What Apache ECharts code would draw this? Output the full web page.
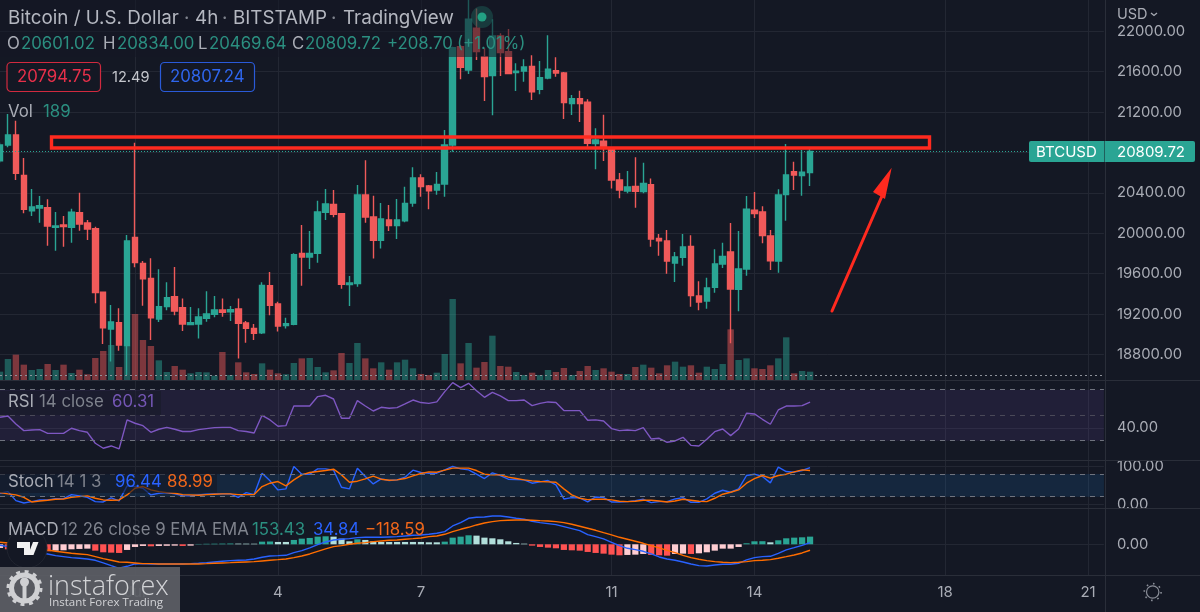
<!DOCTYPE html>
<html>
<head>
<meta charset="utf-8">
<title>BTCUSD 4h</title>
<style>
html,body{margin:0;padding:0;background:#141824;}
#main{width:1200px;height:612px;}
</style>
<script src="https://cdn.jsdelivr.net/npm/echarts@6/dist/echarts.min.js"></script>
</head>
<body>
<div id="main"></div>
<script>
// candles, the first one is cut by the left edge
var opens = [20719,20874,20973,20574,20224,20251,20254,20059,20082,20059,20205,20102,20046,19416,19053,19116,18888,19960,19703,19554,19152,19274,19373,19264,19096,19102,19158,19198,19241,19224,19251,19112,19059,19016,19482,19300,19086,19099,19802,19766,19802,20208,20287,20195,19492,19502,20379,20162,19931,20132,20076,20125,20300,20548,20469,20429,20488,20874,21848,21617,22030,21749,21561,21954,21799,21591,21607,21653,21426,21538,21610,21587,21284,21333,21297,20888,20911,20832,20528,20419,20465,20413,20482,19950,19924,19706,19762,19871,19380,19330,19465,19696,19815,19446,19647,20228,20211,19974,19726,20383,20610,20571,20601.02];
var highs = [20900,21181,21115,20746,20439,20370,20337,20211,20172,20244,20403,20132,20066,19416,19290,19258,19984,20898,19726,19753,19644,19515,19667,19356,19271,19258,19426,19380,19356,19281,19356,19132,19102,19515,19617,19323,19165,19802,20082,20023,20323,20439,20429,20195,19578,20478,20723,20373,20300,20280,20340,20462,20653,20584,20478,20607,21023,21848,21865,22350,22227,21832,22119,21980,22023,21683,21723,21762,21706,21960,21742,21597,21370,21412,21327,21040,21175,20841,20597,20617,20752,20700,20544,19993,20033,19815,19993,19980,19525,19561,19842,19908,20102,20023,20370,20409,20267,20033,20436,20884,20709,20825,20834];
var lows = [20700,20851,20528,20198,20172,20106,19878,19828,19868,19908,20026,19934,19307,18904,18730,18838,18598,19663,19284,18944,19122,19238,19188,19033,19093,18960,19125,19168,19175,19132,18762,18918,18944,19003,19188,19027,19059,19089,19482,19647,19710,20132,20158,19452,19281,19472,20106,19752,19851,20023,19944,20109,20264,20363,20238,20383,20363,20808,21525,21577,21716,21310,21168,21558,21581,21409,21501,21320,21376,21525,21551,21132,21172,21102,20858,20634,20716,20445,20347,20396,20254,20396,19868,19779,19601,19518,19680,19274,19238,19254,19413,19657,18911,19228,19581,20152,19901,19637,19611,20125,20429,20373,20469.64];
var closes = [20874,20973,20594,20238,20261,20274,20073,20073,20066,20208,20092,20043,19413,19066,19122,18895,19924,19710,19551,19165,19274,19363,19231,19102,19116,19172,19201,19241,19218,19244,19109,19059,19010,19485,19287,19083,19106,19789,19766,19802,20211,20290,20188,19495,19508,20379,20162,19931,20142,20076,20132,20297,20548,20462,20422,20485,20874,21838,21643,22119,21799,21551,21954,21789,21581,21604,21647,21402,21541,21624,21587,21294,21333,21284,20891,20924,20858,20528,20429,20459,20416,20495,19944,19927,19726,19766,19865,19383,19320,19459,19696,19772,19449,19647,20238,20195,19977,19729,20379,20577,20577,20604,20809.72];
var volumes = [189,476,575,348,227,250,363,227,348,159,234,129,499,658,794,295,779,1497,907,771,446,181,318,234,151,181,174,98,635,113,401,174,136,378,234,151,129,386,491,499,295,174,219,612,386,839,491,265,401,234,401,461,265,136,113,166,590,1837,378,839,280,408,1005,318,302,181,113,166,113,227,181,272,113,204,318,227,265,189,136,136,295,348,280,151,333,416,302,333,166,302,250,363,1149,454,491,265,250,333,491,968,151,204,189];

// indicators
var rsiValues = [48.4,49.4,43.1,37.9,38.4,38.7,35.8,35.8,35.8,39.8,37.9,36.6,28.0,24.1,25.9,23.6,46.3,43.7,41.8,36.6,39.0,40.5,39.0,37.2,37.2,38.7,39.5,40.3,40.5,40.5,37.9,37.2,36.1,49.9,46.3,41.3,41.8,57.2,57.2,57.2,64.6,65.6,62.7,47.6,47.6,61.4,57.2,53.3,56.2,55.4,55.9,58.8,61.9,59.9,59.3,60.4,68.5,75.5,71.6,75.0,69.2,64.0,67.9,65.1,61.4,61.4,61.9,57.5,59.3,60.4,59.9,53.6,53.6,53.6,46.0,46.3,45.5,39.5,37.9,38.4,37.9,40.3,31.4,31.9,28.8,29.8,32.7,26.4,25.9,31.1,37.1,39.2,34.0,39.2,51.5,51.0,46.8,42.9,54.1,57.2,57.2,57.5,60.31];
var stochK = [28.9,33.3,9.5,3.3,6.9,11.3,11.3,14.8,14.8,25.4,21.9,18.3,6.9,6.0,16.6,8.6,48.3,46.6,42.1,24.5,28.9,30.7,27.2,22.7,21.9,24.5,26.3,27.2,27.2,27.2,18.3,30.7,25.4,81.8,61.6,37.7,40.4,99.5,79.2,79.2,93.3,93.3,89.8,44.8,40.4,95.1,73.0,53.6,66.8,62.4,64.2,71.3,89.8,83.6,81.8,81.8,90.7,100,93.3,90.7,79.2,67.7,82.7,75.7,66.0,65.1,64.2,55.4,58.9,62.4,51.0,13.9,17.5,16.6,6.0,19.2,17.5,6.0,6.0,6.9,9.5,13.0,4.2,6.9,6.9,13.9,17.5,5.1,5.1,13.9,28.9,36.9,31.6,40.4,75.7,79.2,73.0,56.3,97.7,86.2,84.5,88.9,96.44];
var stochD = [30.7,27.2,24.5,18.3,6.0,8.6,10.4,13.0,13.9,18.3,20.1,21.9,15.7,11.3,10.4,11.3,24.5,42.1,46.6,37.7,33.3,30.7,28.9,25.4,24.5,23.6,25.4,26.3,27.2,27.2,25.4,25.4,25.4,46.6,55.4,59.8,48.3,64.2,77.4,83.6,86.3,88.9,92.4,77.4,58.0,60.7,66.8,73.9,66.0,63.3,64.2,67.7,74.8,81.0,85.4,84.5,89.8,95.1,95.1,95.1,88.9,79.2,77.4,77.4,71.3,67.7,64.2,61.6,59.8,58.9,58.0,40.4,24.5,15.7,12.2,13.0,13.0,11.3,7.8,6.9,7.8,10.4,10.4,8.6,6.0,8.6,13.0,10.4,7.8,6.9,15.7,26.3,31.6,37.7,55.4,67.7,75.7,68.6,75.7,79.2,85.4,90.7,88.99];
var macdLine = [-20,-47,-80,-113,-140,-167,-193,-227,-247,-267,-280,-293,-320,-373,-427,-480,-440,-393,-387,-393,-393,-393,-393,-393,-387,-380,-367,-353,-340,-327,-320,-313,-293,-260,-233,-227,-220,-167,-127,-73,-7,47,87,100,113,133,140,140,140,147,153,167,180,187,200,220,253,367,433,520,540,547,567,567,547,520,500,460,433,413,393,353,313,273,193,153,107,40,-27,-80,-107,-140,-193,-253,-293,-320,-353,-393,-427,-433,-413,-400,-400,-380,-313,-267,-247,-240,-180,-113,-67,-20,34.84];
var signalLine = [40,27,7,-13,-33,-67,-113,-140,-160,-180,-193,-207,-247,-287,-320,-353,-360,-373,-387,-387,-393,-393,-393,-393,-393,-393,-387,-380,-373,-367,-360,-353,-347,-333,-320,-307,-293,-267,-233,-193,-140,-93,-47,-27,0,20,33,53,67,80,87,100,113,127,153,167,200,253,300,340,387,427,453,473,480,487,487,480,473,467,453,433,400,360,320,280,233,187,140,100,60,20,-27,-73,-120,-167,-220,-267,-300,-327,-347,-360,-367,-360,-347,-327,-320,-307,-280,-247,-213,-173,-118.59];
var macdHist = [-73,-100,-113,-133,-133,-127,-140,-127,-120,-100,-93,-87,-127,-160,-167,-173,-113,-53,-33,-40,-33,-30,-27,-33,-27,7,10,12,14,16,14,13,12,53,56,47,47,87,113,127,153,160,153,113,60,100,87,60,47,47,47,47,47,47,40,40,53,133,153,180,173,133,120,100,60,27,13,-27,-53,-67,-80,-113,-120,-127,-153,-173,-187,-207,-220,-213,-207,-193,-213,-220,-227,-193,-187,-193,-180,-160,-127,-87,-87,-53,20,60,62,40,80,120,133,140,153.43];

// axis ticks
var slotCount = 140;
var dayTicks = {17:'Jul',35:'4',53:'7',77:'11',95:'14',119:'18',137:'21'};
var priceTicks = [18800,19200,19600,20000,20400,20800,21200,21600,22000];
var rsiTicks = [40];
var stochTicks = [0,100];
var macdTicks = [0];

var categories = [];
for (var i = 0; i < slotCount; i++) {
    categories.push(dayTicks[i] || '');
}

var upColor = '#2aa594';
var downColor = '#f05a5a';
var gridColor = '#232733';
var textColor = '#a9acb5';
var dimColor = '#7f838d';
var tealText = '#2b8f80';
var dashColor = '#6f737e';
var legendSize = 16.8;

// panes: same x scale, one under the other
var paneLeft = -2.29, paneWidth = 1106.2;
var panes = [[0,380],[381,79],[461,47],[509,66]];
var grids = panes.map(function(p){
    return {left:paneLeft, width:paneWidth, top:p[0], height:p[1], show:false};
});
var xAxes = panes.map(function(p, idx){
    return {
        type:'category', gridIndex:idx, data:categories, boundaryGap:false,
        axisLine:{show:false}, axisTick:{show:false},
        axisLabel:{
            show: idx === 3, interval:function(n, v){return v !== '';},
            color:textColor, fontFamily:'Inter', fontSize:15, margin:10
        },
        splitLine:{show:true, interval:function(n, v){return v !== '';}, lineStyle:{color:gridColor, width:1}}
    };
});

function valueAxis(gridIndex, min, max, ticks){
    return {
        type:'value', gridIndex:gridIndex, position:'right', min:min, max:max, scale:true,
        axisLine:{show:false},
        axisTick:{show:false, customValues:ticks},
        axisLabel:{
            customValues:ticks, color:textColor, fontFamily:'Inter', fontSize:14.8, margin:13,
            formatter:function(v){return v.toFixed(2);}
        },
        splitLine:{show:true, lineStyle:{color:gridColor, width:1}}
    };
}
var yAxes = [
    valueAxis(0, 18548, 22310, priceTicks),
    {type:'value', gridIndex:0, min:0, max:8620, show:false, splitLine:{show:false}},
    valueAxis(1, 14.9, 76.8, rsiTicks),
    valueAxis(2, -10, 114, stochTicks),
    valueAxis(3, -614, 706, macdTicks)
];

var candleData = opens.map(function(o, n){
    return [o, closes[n], lows[n], highs[n]];
});
var volumeData = volumes.map(function(v, n){
    return {
        value:v,
        itemStyle:{color: closes[n] >= opens[n] ? 'rgba(42,165,148,0.48)' : 'rgba(240,90,90,0.48)'}
    };
});
// histogram colour depends on the direction of the bar
var histData = macdHist.map(function(v, n){
    var prev = n > 0 ? macdHist[n-1] : v;
    var c;
    if (v >= 0) { c = v > prev ? '#2aa594' : '#b2dfdb'; }
    else { c = v < prev ? '#ff5252' : '#ffcdd2'; }
    return {value:v, itemStyle:{color:c}};
});

function dashLine(value){
    return {yAxis:value};
}
function lineSeries(xi, yi, values, color, extra){
    var s = {
        type:'line', xAxisIndex:xi, yAxisIndex:yi, data:values, showSymbol:false,
        lineStyle:{color:color, width:1.4}, itemStyle:{color:color}, silent:true
    };
    if (extra) { for (var k in extra) { s[k] = extra[k]; } }
    return s;
}

// text helpers for the overlay
function label(x, y, text, color, size, extra){
    var st = {x:x, y:y, text:text, fill:color, fontFamily:'Inter', fontSize:size, textVerticalAlign:'middle'};
    if (extra) { for (var k in extra) { st[k] = extra[k]; } }
    return {type:'text', z:110, silent:true, style:st};
}
function sep(x1, y1, x2, y2){
    return {type:'line', z:105, silent:true, shape:{x1:x1,y1:y1,x2:x2,y2:y2}, style:{stroke:'#2a2e39', lineWidth:1}};
}

var overlay = [
    // dimmed legend backdrops
    {type:'rect', z:100, silent:true, shape:{x:0,y:0,width:530,height:57}, style:{fill:'rgba(20,24,36,0.55)'}},
    {type:'rect', z:100, silent:true, shape:{x:0,y:391,width:161,height:24}, style:{fill:'rgba(20,24,36,0.45)'}},
    {type:'rect', z:100, silent:true, shape:{x:0,y:472,width:217,height:21}, style:{fill:'rgba(20,24,36,0.6)'}},
    // axis labels get cut at the top and at the pane border
    {type:'rect', z:101, silent:true, shape:{x:1106,y:0,width:94,height:25}, style:{fill:'#141824'}},
    {type:'rect', z:101, silent:true, shape:{x:1106,y:508,width:94,height:3}, style:{fill:'#141824'}},
    sep(0,380.5,1200,380.5), sep(0,460.5,1200,460.5), sep(0,508.5,1200,508.5), sep(0,575.5,1200,575.5),
    sep(1105.5,0,1105.5,612),

    label(8,18,'Bitcoin / U.S. Dollar','#b4b7c0',18.8),
    label(184,18,'·',dimColor,18.8),
    label(195,18,'4h','#b4b7c0',18.8),
    label(222,18,'·',dimColor,18.8),
    label(233,18,'BITSTAMP','#b4b7c0',18.8),
    label(331,18,'·',dimColor,18.8),
    label(343,18,'TradingView','#b4b7c0',18.8),
    {type:'circle', z:106, silent:true, shape:{cx:482,cy:17,r:11}, style:{fill:'rgba(36,150,125,0.28)'}},
    {type:'circle', z:107, silent:true, shape:{cx:482,cy:17,r:4.5}, style:{fill:'#22a183'}},

    label(7,44,'O',textColor,legendSize), label(21,44,'20601.02',tealText,legendSize),
    label(103,44,'H',textColor,legendSize), label(117,44,'20834.00',tealText,legendSize),
    label(198,44,'L',textColor,legendSize), label(209,44,'20469.64',tealText,legendSize),
    label(292,44,'C',textColor,legendSize), label(305,44,'20809.72',tealText,legendSize),
    label(387,44,'+208.70',tealText,legendSize), label(457,44,'(+1.01%)',tealText,legendSize),

    {type:'rect', z:105, silent:true, shape:{x:7,y:62.5,width:93.5,height:29,r:4}, style:{fill:'#141824',stroke:'#d12a3f',lineWidth:1.2}},
    label(17,77,'20794.75','#e8304a',legendSize),
    label(112,78,'12.49','#c4c6cc',14.6),
    {type:'rect', z:105, silent:true, shape:{x:160.5,y:62.5,width:94,height:29,r:4}, style:{fill:'#141824',stroke:'#2a5ad8',lineWidth:1.2}},
    label(170,77,'20807.24','#2f66ee',legendSize),
    label(8,112,'Vol',textColor,legendSize), label(43,112,'189',tealText,legendSize),

    label(8,402,'RSI',textColor,legendSize), label(39,402,'14 close',dimColor,legendSize), label(112,402,'60.31','#7456b4',legendSize),
    label(8,482,'Stoch',textColor,legendSize), label(57,482,'14 1 3',dimColor,legendSize), label(115,482,'96.44','#2962ff',legendSize), label(167,482,'88.99','#f0661a',legendSize),
    label(8,530,'MACD',textColor,legendSize), label(61,530,'12 26 close 9 EMA EMA',dimColor,legendSize), label(252,530,'153.43',tealText,legendSize), label(313,530,'34.84','#2962ff',legendSize), label(365,530,'−118.59','#f0661a',legendSize),

    // resistance box and arrow drawn over the chart
    {type:'rect', z:108, silent:true, shape:{x:51.5,y:137,width:878,height:11}, style:{fill:'none',stroke:'#ff2a1f',lineWidth:3.4}},
    {type:'polyline', z:108, silent:true, shape:{points:[[832,311],[882,196]]}, style:{fill:'none',stroke:'#ff2a1f',lineWidth:3,lineCap:'round'}},
    {type:'polygon', z:108, silent:true, shape:{points:[[891.7,167.7],[873,192],[885,199]]}, style:{fill:'#ff2a1f'}},

    // last price tag
    {type:'rect', z:106, silent:true, shape:{x:1029,y:141,width:75,height:21,r:[2,0,0,2]}, style:{fill:'#2aa594'}},
    {type:'rect', z:106, silent:true, shape:{x:1104.5,y:141,width:90.5,height:21,r:[0,2,2,0]}, style:{fill:'#2aa594'}},
    label(1036,152,'BTCUSD','#ffffff',15),
    label(1117,152,'20809.72','#ffffff',15),

    // currency switch
    label(1117,14.5,'USD',textColor,14.5),
    {type:'polyline', z:110, silent:true, shape:{points:[[1151,13],[1154,15.5],[1157,13]]}, style:{fill:'none',stroke:textColor,lineWidth:1.3}},

    // settings icon
    {type:'circle', z:110, silent:true, shape:{cx:1152.7,cy:592,r:6.2}, style:{fill:'none',stroke:'#8a8e98',lineWidth:1.2}},
    {type:'circle', z:110, silent:true, shape:{cx:1152.7,cy:592,r:8.4}, style:{fill:'none',stroke:'#8a8e98',lineWidth:1.6,lineDash:[1.6,5]}},

    // TV badge in the corner of the MACD pane
    {type:'circle', z:109, silent:true, shape:{cx:27,cy:548,r:20}, style:{fill:'#141824',stroke:'#20242f',lineWidth:1}},
    {type:'polygon', z:110, silent:true, shape:{points:[[17,542],[30,542],[30,555],[24,555],[24,548],[17,548]]}, style:{fill:'#f2f2f2'}},
    {type:'polygon', z:110, silent:true, shape:{points:[[33,542],[38.5,542],[33.5,555],[28,555]]}, style:{fill:'#f2f2f2'}},

    // watermark
    {type:'rect', z:111, silent:true, shape:{x:0,y:567,width:180,height:45}, style:{fill:'rgba(92,95,101,0.93)'}},
    {type:'circle', z:112, silent:true, shape:{cx:24.5,cy:588,r:13}, style:{fill:'none',stroke:'#cfd0d3',lineWidth:5}},
    {type:'circle', z:112, silent:true, shape:{cx:24.5,cy:588,r:16.5}, style:{fill:'none',stroke:'#cfd0d3',lineWidth:3,lineDash:[4,4.6]}},
    {type:'circle', z:112, silent:true, shape:{cx:24.5,cy:582,r:4.5}, style:{fill:'#cfd0d3'}},
    {type:'rect', z:112, silent:true, shape:{x:22.5,y:585,width:4,height:15}, style:{fill:'#cfd0d3'}},
    {type:'text', z:112, silent:true, style:{x:48,y:587,text:'instaforex',fill:'#d2d3d6',fontFamily:'Open Sans',fontWeight:300,fontSize:27,textVerticalAlign:'middle'}},
    {type:'text', z:112, silent:true, style:{x:49,y:603,text:'Instant Forex Trading',fill:'#d2d3d6',fontFamily:'Open Sans',fontSize:11.5,textVerticalAlign:'middle'}}
];

var chart = echarts.init(document.getElementById('main'), null, {renderer:'canvas'});
chart.setOption({
    animation:false,
    backgroundColor:'#141824',
    tooltip:{show:false},
    grid:grids,
    xAxis:xAxes,
    yAxis:yAxes,
    graphic:{elements:overlay},
    series:[
        {
            type:'candlestick', xAxisIndex:0, yAxisIndex:0, data:candleData, barWidth:6, silent:true,
            itemStyle:{color:upColor, color0:downColor, borderColor:upColor, borderColor0:downColor, borderWidth:1.4},
            markLine:{
                silent:true, symbol:'none', label:{show:false},
                lineStyle:{color:'#2aa594', type:[1,2], width:1},
                data:[{yAxis:20809.72}]
            }
        },
        {
            type:'bar', xAxisIndex:0, yAxisIndex:1, data:volumeData, barWidth:6.4, silent:true,
            markLine:{
                silent:true, symbol:'none', label:{show:false},
                lineStyle:{color:'#8f939c', type:[2,3], width:1},
                data:[{yAxis:97}]
            }
        },
        lineSeries(1, 2, rsiValues, '#7e57c2', {
            markArea:{silent:true, itemStyle:{color:'rgba(126,87,194,0.13)'}, data:[[{yAxis:30},{yAxis:70}]]},
            markLine:{silent:true, symbol:'none', label:{show:false}, lineStyle:{color:dashColor, type:[5,5], width:1}, data:[dashLine(70),dashLine(30)]}
        }),
        lineSeries(1, 2, [], '#7e57c2', {
            markLine:{silent:true, symbol:'none', label:{show:false}, lineStyle:{color:'#4a4958', type:[5,5], width:1}, data:[dashLine(50)]}
        }),
        lineSeries(2, 3, stochK, '#2962ff', {
            markArea:{silent:true, itemStyle:{color:'rgba(33,150,243,0.13)'}, data:[[{yAxis:20},{yAxis:80}]]},
            markLine:{silent:true, symbol:'none', label:{show:false}, lineStyle:{color:dashColor, type:[5,5], width:1}, data:[dashLine(80),dashLine(20)]}
        }),
        lineSeries(2, 3, stochD, '#ff6d00'),
        {type:'bar', xAxisIndex:3, yAxisIndex:4, data:histData, barWidth:6.2, silent:true},
        lineSeries(3, 4, macdLine, '#2962ff'),
        lineSeries(3, 4, signalLine, '#ff6d00')
    ]
});
</script>
</body>
</html>
